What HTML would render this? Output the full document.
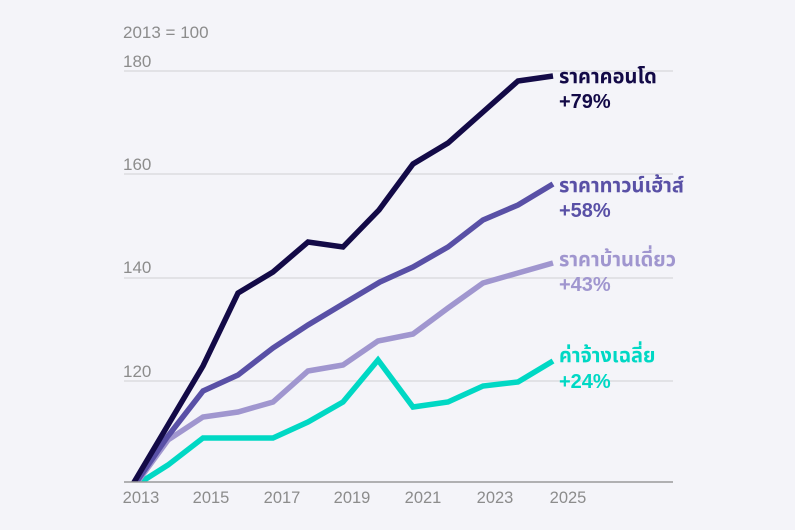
<!DOCTYPE html>
<html>
<head>
<meta charset="utf-8">
<style>
html,body{margin:0;padding:0;background:#f4f4f9;}
svg{display:block;}
.ax{font-family:"Liberation Sans",sans-serif;font-size:17px;fill:#8c8c8c;}
.axx{font-family:"Liberation Sans",sans-serif;font-size:16.5px;fill:#8c8c8c;}
.lb{font-family:"Liberation Sans","Noto Sans Thai","Noto Sans CJK SC",sans-serif;font-size:20px;font-weight:bold;}
</style>
</head>
<body>
<svg width="795" height="530" viewBox="0 0 795 530" xmlns="http://www.w3.org/2000/svg">
<rect width="795" height="530" fill="#f4f4f9"/>
<text class="ax" x="123" y="38">2013 = 100</text>
<g stroke="#dcdce0" stroke-width="1.5">
<line x1="124" y1="71" x2="673" y2="71"/>
<line x1="124" y1="174" x2="673" y2="174"/>
<line x1="124" y1="278" x2="673" y2="278"/>
<line x1="124" y1="381" x2="673" y2="381"/>
</g>
<text class="ax" x="123" y="67">180</text>
<text class="ax" x="123" y="170">160</text>
<text class="ax" x="123" y="273">140</text>
<text class="ax" x="123" y="377">120</text>
<g class="axx" text-anchor="middle">
<text x="141" y="503">2013</text>
<text x="211" y="503">2015</text>
<text x="282" y="503">2017</text>
<text x="352" y="503">2019</text>
<text x="423" y="503">2021</text>
<text x="495" y="503">2023</text>
<text x="568" y="503">2025</text>
</g>
<defs><clipPath id="c"><rect x="0" y="0" width="795" height="482"/></clipPath></defs>
<g fill="none" stroke-width="5.5" stroke-linejoin="miter" clip-path="url(#c)">
<polyline stroke="#00d8c4" points="138,484 168,465 203,438 238,438 273,438 308,422 343,402 378,360 413,407 448,402 483,386 518,382 553,361"/>
<polyline stroke="#a096cf" points="136,484 168,440 203,417 238,412 273,402 308,371 343,365 378,341 413,334 448,308 483,283 518,273 553,263"/>
<polyline stroke="#5950a6" points="135,484 168,436 203,391 238,375 273,348 308,325 343,304 380,282 413,267 448,247 483,220 518,205 553,184"/>
<polyline stroke="#130a47" points="133,484 168,425 203,366 238,293 273,272 308,242 343,247 379,210 413,164 448,143 483,112 518,81 553,76"/>
</g>
<line x1="124" y1="482" x2="673" y2="482" stroke="#9a9a9a" stroke-width="1.5"/>
<text class="lb" x="559" y="83" fill="#130a47">ราคาคอนโด</text>
<text class="lb" x="559" y="108" fill="#130a47">+79%</text>
<text class="lb" x="559" y="192" fill="#5950a6">ราคาทาวน์เฮ้าส์</text>
<text class="lb" x="559" y="217" fill="#5950a6">+58%</text>
<text class="lb" x="559" y="266" fill="#a096cf">ราคาบ้านเดี่ยว</text>
<text class="lb" x="559" y="291" fill="#a096cf">+43%</text>
<text class="lb" x="559" y="362" fill="#00d8c4">ค่าจ้างเฉลี่ย</text>
<text class="lb" x="559" y="388" fill="#00d8c4">+24%</text>
</svg>
</body>
</html>
